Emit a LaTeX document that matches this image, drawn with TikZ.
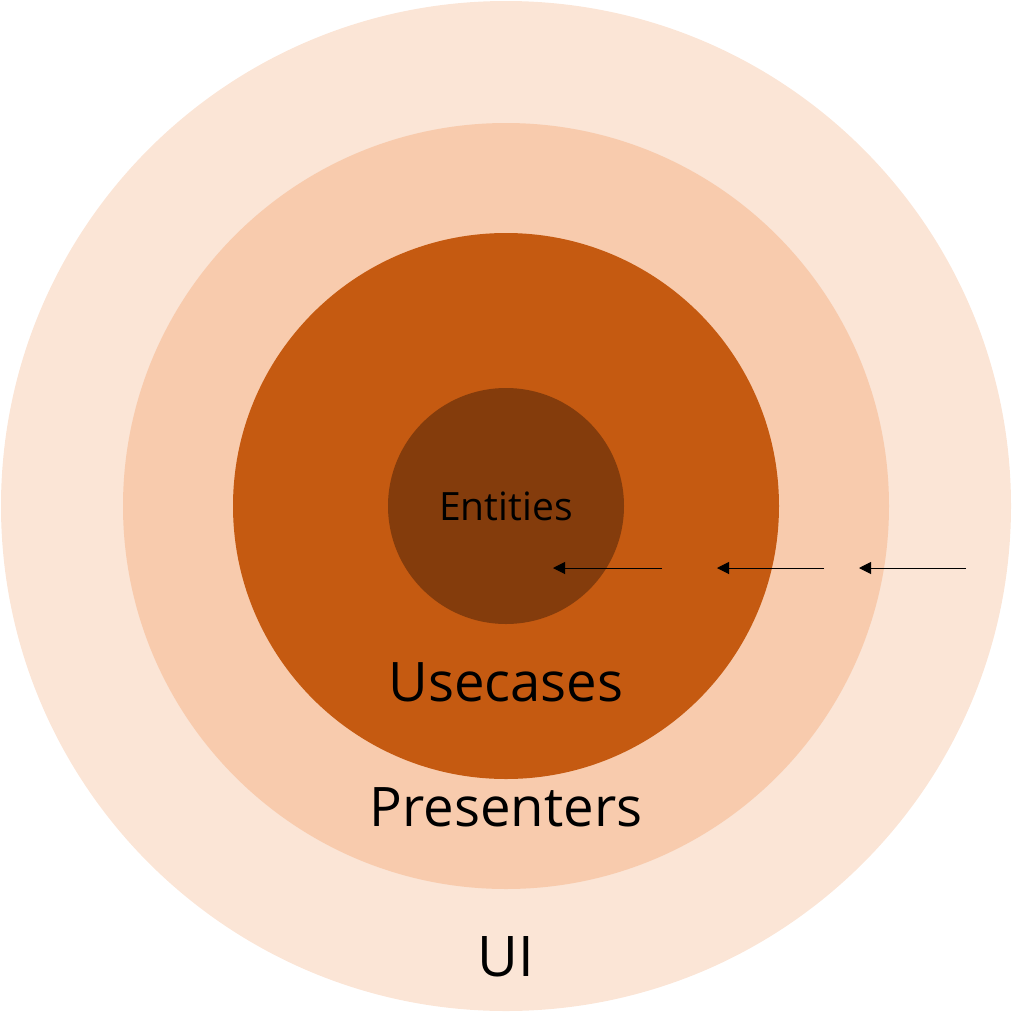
\documentclass[tikz,border=0pt]{standalone}
\usepackage{fontspec}
\setmainfont{Open Sans}
\usetikzlibrary{arrows.meta}
\definecolor{ringA}{HTML}{FBE5D6}
\definecolor{ringB}{HTML}{F8CBAD}
\definecolor{ringC}{HTML}{C55A11}
\definecolor{ringD}{HTML}{843C0C}
\tikzset{
  ring/.style={circle, draw=none, inner sep=0pt, minimum size=#1},
  lbl/.style={anchor=base, text=black, inner sep=0pt},
  dep/.style={line width=1pt, -{Triangle[length=12pt,width=12pt]}},
}
\begin{document}
\begin{tikzpicture}[x=1pt,y=-1pt]
\useasboundingbox (0,0) rectangle (1012,1026);
\node[ring=1010pt, fill=ringA] (ui) at (506,506) {};
\node[ring=766pt, fill=ringB] (pres) at (506,506) {};
\node[ring=546pt, fill=ringC] (uc) at (506,506) {};
\node[ring=236pt, fill=ringD] (ent) at (506,506) {};
\node[lbl, font=\fontsize{39}{44}\selectfont] (tEnt) at (506,520) {Entities};
\node[lbl, font=\fontsize{54.5}{62}\selectfont] (tUc) at (506,701.5) {Usecases};
\node[lbl, font=\fontsize{54.5}{62}\selectfont] (tPres) at (506,826.5) {Presenters};
\node[lbl, font=\fontsize{56}{62}\selectfont] (tUi) at (506,976.5) {UI};
\coordinate (a1s) at (662,568); \coordinate (a1e) at (553,568);
\coordinate (a2s) at (824,568); \coordinate (a2e) at (717,568);
\coordinate (a3s) at (966,568); \coordinate (a3e) at (859,568);
\draw[dep] (a1s) -- (a1e);
\draw[dep] (a2s) -- (a2e);
\draw[dep] (a3s) -- (a3e);
\end{tikzpicture}
\end{document}
